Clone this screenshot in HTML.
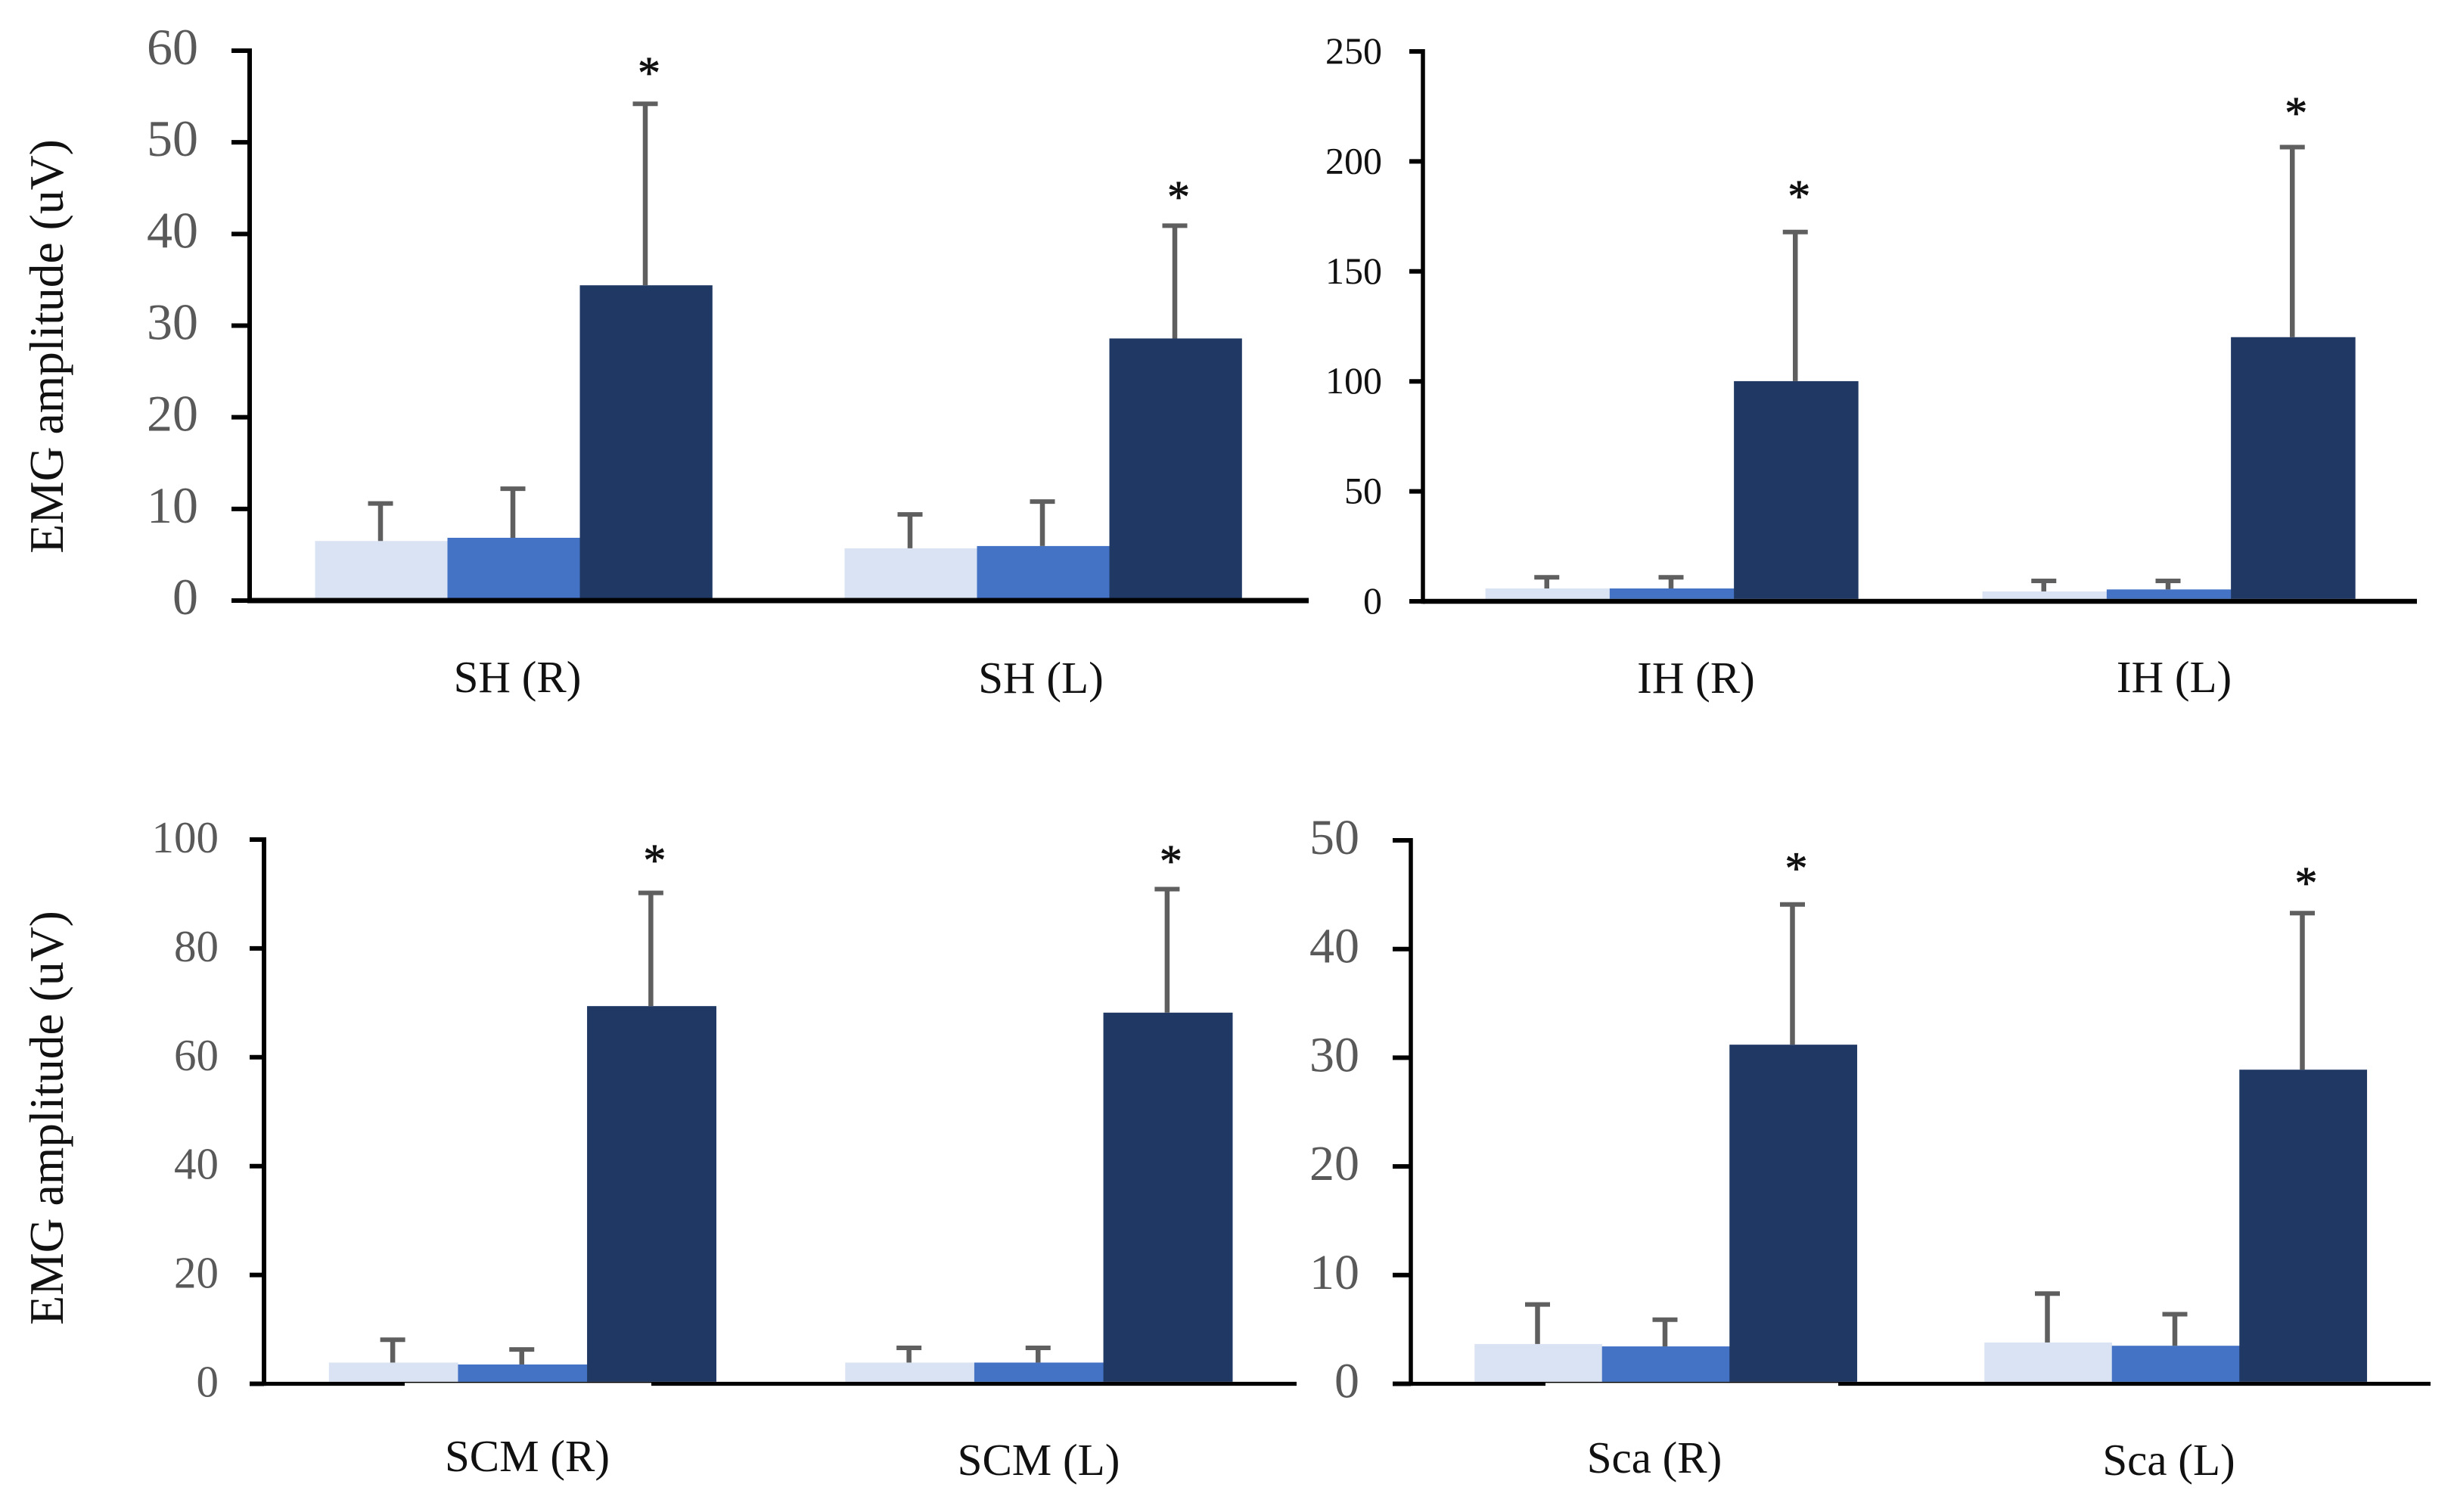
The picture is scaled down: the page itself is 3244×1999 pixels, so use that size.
<!DOCTYPE html>
<html lang="en">
<head>
<meta charset="utf-8">
<title>EMG amplitude by muscle</title>
<style>
html,body{margin:0;padding:0;background:#fff;}
#chart{display:block;width:3244px;height:1999px;}
text{font-family:"Liberation Serif",serif;}
</style>
</head>
<body>
<svg id="chart" xmlns="http://www.w3.org/2000/svg" width="3244" height="1999" viewBox="0 0 3244 1999">
<rect x="0" y="0" width="3244" height="1999" fill="#ffffff"></rect>
</svg>
<script>
// ---- Superior hyoid panel ----
const shCategories = ['SH (R)', 'SH (L)'];
const shTicks = [0, 10, 20, 30, 40, 50, 60];
const shLight = [6.5, 5.7];
const shMedium = [6.85, 5.95];
const shDark = [34.4, 28.6];
const shLightSd = [4.1, 3.7];
const shMediumSd = [5.35, 4.85];
const shDarkSd = [19.8, 12.3];

// ---- Inferior hyoid panel ----
const ihCategories = ['IH (R)', 'IH (L)'];
const ihTicks = [0, 50, 100, 150, 200, 250];
const ihLight = [5.85, 4.5];
const ihMedium = [5.85, 5.4];
const ihDark = [100.1, 120.1];
const ihLightSd = [5.05, 4.8];
const ihMediumSd = [5.05, 3.9];
const ihDarkSd = [67.8, 86.4];

// ---- Sternocleidomastoid panel ----
const scmCategories = ['SCM (R)', 'SCM (L)'];
const scmTicks = [0, 20, 40, 60, 80, 100];
const scmLight = [3.9, 3.9];
const scmMedium = [3.55, 3.9];
const scmDark = [69.4, 68.2];
const scmLightSd = [4.2, 2.7];
const scmMediumSd = [2.75, 2.7];
const scmDarkSd = [20.8, 22.7];

// ---- Scalene panel ----
const scaCategories = ['Sca (R)', 'Sca (L)'];
const scaTicks = [0, 10, 20, 30, 40, 50];
const scaLight = [3.66, 3.8];
const scaMedium = [3.44, 3.5];
const scaDark = [31.2, 28.9];
const scaLightSd = [3.64, 4.5];
const scaMediumSd = [2.46, 2.9];
const scaDarkSd = [12.9, 14.4];

const SVG_NS = 'http://www.w3.org/2000/svg';
const svg = document.getElementById('chart');
const BAR_COLORS = ['#dae3f3', '#4472c4', '#1f3864'];
const SERIES_NAMES = ['light', 'medium', 'dark'];

function make(tag, attrs, parent) {
  const node = document.createElementNS(SVG_NS, tag);
  for (const key in attrs) node.setAttribute(key, attrs[key]);
  parent.appendChild(node);
  return node;
}

function drawPanel(p) {
  const group = make('g', {}, svg);
  
  

  const yMax = p.ticks[p.ticks.length - 1];
  const yScale = v => p.base - (v / yMax) * (p.base - p.top);
  const band = (p.xEnd - p.xAxis) / p.categories.length;
  const barWidth = band / 4;
  const barLeft = (cat, s) => p.xAxis + band * cat + barWidth / 2 + barWidth * s + p.barShift;
  const barBottom = p.base - p.axisW / 2;

  const seriesValues = [p.light, p.medium, p.dark];
  const seriesSd = [p.lightSd, p.mediumSd, p.darkSd];

  // bars
  seriesValues.forEach((values, s) => {
    values.forEach((value, c) => {
      const topY = yScale(value);
      const bar = make('rect', {
        x: barLeft(c, s), y: topY, width: barWidth + 0.3,
        height: barBottom - topY, fill: BAR_COLORS[s]
      }, group);
      
      
    });
  });

  // error bars and significance markers
  seriesValues.forEach((values, s) => {
    values.forEach((value, c) => {
      const cx = barLeft(c, s) + barWidth / 2 - 1;
      const hiY = yScale(value + seriesSd[s][c]);
      const stem = make('line', {
        x1: cx, x2: cx, y1: yScale(value), y2: hiY,
        stroke: '#5f5f5f', 'stroke-width': 6.5
      }, group);
      
      
      const cap = make('line', {
        x1: cx - 16.5, x2: cx + 16.5, y1: hiY, y2: hiY,
        stroke: '#5f5f5f', 'stroke-width': 6
      }, group);
      
      
      if (s === 2) {
        const star = make('text', {
          x: cx + 5, y: hiY - p.starGap[c] + 25,
          'font-size': 60, 'text-anchor': 'middle', fill: '#111111',
          stroke: '#111111', 'stroke-width': 0.8
        }, group);
        star.textContent = '*';
        
        
      }
    });
  });

  // x axis, y axis
  const xAxisLine = make('line', {
    x1: p.xAxis, x2: p.xEnd, y1: p.base, y2: p.base, stroke: '#000000', 'stroke-width': p.axisW
  }, group);
  
  

  if (p.mask) {
    const mask = make('rect', {
      x: p.mask[0], y: p.base - p.axisW / 2 + 1.5, width: p.mask[1] - p.mask[0], height: p.axisW, fill: '#ffffff'
    }, group);
    
    
  }

  const yAxisLine = make('line', {
    x1: p.xAxis, x2: p.xAxis, y1: p.top - 3, y2: p.base + p.axisW / 2, stroke: '#000000', 'stroke-width': p.yAxisW
  }, group);
  
  

  // ticks and tick labels
  p.ticks.forEach(t => {
    const ty = yScale(t);
    const tick = make('line', {
      x1: p.tickLeft, x2: p.xAxis, y1: ty, y2: ty, stroke: '#000000', 'stroke-width': 6
    }, group);
    
    
    const label = make('text', {
      x: p.tickRight, y: ty + p.tickDy, 'font-size': p.tickSize, 'text-anchor': 'end', fill: p.tickColor
    }, group);
    label.textContent = String(t);
    
    
  });

  // category labels
  p.categories.forEach((name, c) => {
    const label = make('text', {
      x: p.labelX[c], y: p.labelY[c], 'font-size': 59, 'text-anchor': 'middle', fill: '#111111'
    }, group);
    label.textContent = name;
    
    
  });

  // y title
  if (p.titleY) {
    const title = make('text', {
      x: 0, y: 0, 'font-size': 63.6, 'text-anchor': 'middle', fill: '#111111',
      transform: 'translate(83 ' + p.titleY + ') rotate(-90)'
    }, group);
    title.textContent = 'EMG amplitude (uV)';
    
    
  }
}

drawPanel({
  name: 'sh', categories: shCategories, ticks: shTicks,
  light: shLight, medium: shMedium, dark: shDark,
  lightSd: shLightSd, mediumSd: shMediumSd, darkSd: shDarkSd,
  xAxis: 330, xEnd: 1730, top: 67, base: 794, axisW: 7, yAxisW: 6, tickLeft: 306, barShift: -1,
  tickRight: 262, tickSize: 68, tickDy: 18, tickColor: '#595959',
  labelX: [684, 1376], labelY: [915, 916], starGap: [46, 43], titleY: 458
});
drawPanel({
  name: 'ih', categories: ihCategories, ticks: ihTicks,
  light: ihLight, medium: ihMedium, dark: ihDark,
  lightSd: ihLightSd, mediumSd: ihMediumSd, darkSd: ihDarkSd,
  xAxis: 1881, xEnd: 3195, top: 68, base: 795, axisW: 6.5, yAxisW: 5.5, tickLeft: 1863, barShift: 0.5,
  tickRight: 1827, tickSize: 50, tickDy: 16, tickColor: '#111111',
  labelX: [2242, 2874], labelY: [916, 915], starGap: [52, 50]
});
drawPanel({
  name: 'scm', categories: scmCategories, ticks: scmTicks,
  light: scmLight, medium: scmMedium, dark: scmDark,
  lightSd: scmLightSd, mediumSd: scmMediumSd, darkSd: scmDarkSd,
  xAxis: 349, xEnd: 1714, top: 1110, base: 1829.5, axisW: 5.3, yAxisW: 6, tickLeft: 330, barShift: 0.5,
  tickRight: 289, tickSize: 59, tickDy: 17, tickColor: '#595959',
  labelX: [697, 1373], labelY: [1945, 1950], starGap: [48, 42], titleY: 1478,
  mask: [535, 861]
});
drawPanel({
  name: 'sca', categories: scaCategories, ticks: scaTicks,
  light: scaLight, medium: scaMedium, dark: scaDark,
  lightSd: scaLightSd, mediumSd: scaMediumSd, darkSd: scaDarkSd,
  xAxis: 1865, xEnd: 3213, top: 1111, base: 1829.5, axisW: 5.3, yAxisW: 5.5, tickLeft: 1841, barShift: 0,
  tickRight: 1797, tickSize: 66, tickDy: 18, tickColor: '#595959',
  labelX: [2187, 2867], labelY: [1947, 1950], starGap: [53, 45],
  mask: [2043, 2430]
});
</script>
</body>
</html>
